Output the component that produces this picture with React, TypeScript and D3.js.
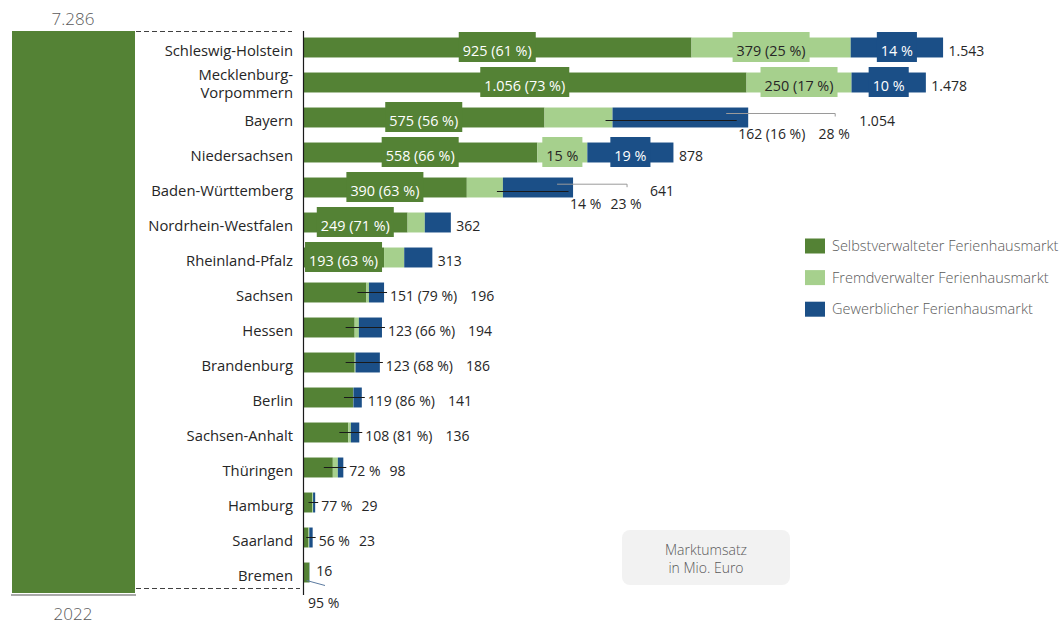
import React, { useEffect, useRef } from "react";
import * as d3 from "d3";

// ---------- data ----------
const states = [
  "Schleswig-Holstein", "Mecklenburg-Vorpommern", "Bayern", "Niedersachsen",
  "Baden-Württemberg", "Nordrhein-Westfalen", "Rheinland-Pfalz", "Sachsen",
  "Hessen", "Brandenburg", "Berlin", "Sachsen-Anhalt", "Thüringen",
  "Hamburg", "Saarland", "Bremen",
];
const selbst = [925, 1056, 575, 558, 390, 249, 193, 151, 123, 123, 119, 108, 71, 22, 13, 15];
const fremd = [379, 250, 162, 119, 86, 41, 48, 6, 10, 2, 1, 6, 12, 2, 2, 0.5];
const gewerb = [220, 177, 323, 205, 167, 62, 67, 36, 55, 58, 20, 20, 13, 5, 8, 0.5];
const totals = [1543, 1478, 1054, 878, 641, 362, 313, 196, 194, 186, 141, 136, 98, 29, 23, 16];
const selbstPct = [61, 73, 56, 66, 63, 71, 63, 79, 66, 68, 86, 81, 72, 77, 56, 95];
const fremdPct = [25, 17, 16, 15, 14];
const gewerbPct = [14, 10, 28, 19, 23];
// label kinds
const selbstLabelKind = ["in", "in", "in", "in", "in", "in", "in", "full", "full", "full", "full", "full", "pct", "pct", "pct", "below"];
const fremdLabelKind = ["in-full", "in-full", "call-full", "in-pct", "call-pct"];
const gewerbLabelKind = ["in", "in", "call", "in", "call"];
const grandTotal = 7286;
const yearLabel = "2022";
const legendLabels = ["Selbstverwalteter Ferienhausmarkt", "Fremdverwalter Ferienhausmarkt", "Gewerblicher Ferienhausmarkt"];
const noteLines = ["Marktumsatz", "in Mio. Euro"];

const C_GREEN = "#548235";
const C_LIGHT = "#a6d08d";
const C_BLUE = "#1b4f87";
const C_TEXT = "#262626";
const C_GRAY = "#595959";
const FONT = "'Open Sans', 'Noto Sans', sans-serif";

// callout offsets (pixels) for rows whose labels sit outside
const callouts: Record<number, any> = {
  2: { lFrom: -7, lY: 3, lLab: -10, bFrom: -22, bTo: 87, bY: -4, bLab: 86, totDx: 111 },
  4: { lFrom: -6, lY: 4, lLab: -3, bFrom: -16, bTo: 54, bY: -3.3, bLab: 53, totDx: 77 },
};

export default function App() {
  const ref = useRef<SVGSVGElement | null>(null);

  useEffect(() => {
    const svg = d3.select(ref.current);
    svg.selectAll("*").remove();
    const W = 1064, H = 625;
    const fmt = d3.formatLocale({ decimal: ",", thousands: ".", grouping: [3], currency: ["", ""] }).format(",d");

    const x0 = 303;
    const x = d3.scaleLinear().domain([0, 1000]).range([x0, x0 + 420]);
    const y = d3.scaleBand<string>().domain(states).range([30, 590]).paddingInner(0.43).paddingOuter(0.215);
    const bh = y.bandwidth();
    const cy = (i: number) => (y(states[i]) as number) + bh / 2;

    const rows = states.map((s, i) => ({ state: s, selbst: selbst[i], fremd: fremd[i], gewerb: gewerb[i] }));
    const keys = ["selbst", "fremd", "gewerb"];
    const colors = [C_GREEN, C_LIGHT, C_BLUE];
    const stack = d3.stack<any>().keys(keys)(rows);

    const g = svg.append("g").attr("font-family", FONT);

    // big total bar
    const yBig = d3.scaleLinear().domain([0, grandTotal]).range([593, 31]);
    g.append("rect").attr("x", 12).attr("width", 123).attr("y", yBig(grandTotal))
      .attr("height", yBig(0) - yBig(grandTotal)).attr("fill", C_GREEN);
    g.append("line").attr("x1", 11).attr("x2", 136).attr("y1", 595).attr("y2", 595)
      .attr("stroke", "#8c8c8c").attr("stroke-width", 1.5);
    g.append("text").attr("x", 73).attr("y", 25).attr("text-anchor", "middle")
      .attr("font-size", 17).attr("font-weight", 300).attr("fill", C_GRAY).text(fmt(grandTotal));
    g.append("text").attr("x", 73).attr("y", 620).attr("text-anchor", "middle")
      .attr("font-size", 17).attr("font-weight", 300).attr("fill", C_GRAY).text(yearLabel);
    // dashed connectors
    g.append("line").attr("x1", 136).attr("x2", 292).attr("y1", 31.5).attr("y2", 31.5)
      .attr("stroke", "#404040").attr("stroke-dasharray", "5,3");
    g.append("line").attr("x1", 136).attr("x2", 300).attr("y1", 588.5).attr("y2", 588.5)
      .attr("stroke", "#404040").attr("stroke-dasharray", "5,3");

    // stacked bars
    stack.forEach((layer, k) => {
      g.append("g").selectAll("rect").data(layer).join("rect")
        .attr("x", (d: any) => x(d[0]))
        .attr("width", (d: any) => Math.max(0, x(d[1]) - x(d[0])))
        .attr("y", (d: any) => y(d.data.state) as number)
        .attr("height", bh)
        .attr("fill", colors[k]);
    });

    // axis line
    g.append("line").attr("x1", x0 + 0.5).attr("x2", x0 + 0.5).attr("y1", 31).attr("y2", 595)
      .attr("stroke", "#1a1a1a").attr("stroke-width", 1.2);

    // category labels
    states.forEach((s, i) => {
      const c = cy(i);
      const lines = s === "Mecklenburg-Vorpommern" ? ["Mecklenburg-", "Vorpommern"] : [s];
      lines.forEach((ln, j) => {
        const base = lines.length === 1 ? c + 8.8 : c - 2.5 + j * 18;
        g.append("text").attr("x", 293).attr("y", base).attr("text-anchor", "end")
          .attr("font-size", 14.8).attr("fill", C_TEXT).text(ln);
      });
    });

    const labels = g.append("g");
    const boxLabel = (cx: number, c: number, txt: string, fill: string, tcol: string) => {
      const t = labels.append("text").attr("x", cx).attr("y", c + 8.5).attr("text-anchor", "middle")
        .attr("font-size", 14.4).attr("fill", tcol).text(txt);
      const w = (t.node() as SVGTextElement).getComputedTextLength() + 8;
      labels.insert("rect", () => t.node() as any).attr("x", cx - w / 2).attr("y", c - 15.5)
        .attr("width", w).attr("height", 30).attr("fill", fill);
    };
    const plain = (xx: number, yy: number, txt: string, anchor = "start", col = C_TEXT) => {
      const t = labels.append("text").attr("x", xx).attr("y", yy).attr("text-anchor", anchor)
        .attr("font-size", 14).attr("fill", col).text(txt);
      return (t.node() as SVGTextElement).getComputedTextLength();
    };
    const line = (xa: number, ya: number, xb: number, yb: number, col: string, w = 1) =>
      labels.append("line").attr("x1", xa).attr("x2", xb).attr("y1", ya).attr("y2", yb)
        .attr("stroke", col).attr("stroke-width", w);

    states.forEach((s, i) => {
      const c = cy(i);
      const gEnd = x(selbst[i]);
      const lEnd = x(selbst[i] + fremd[i]);
      const bEnd = x(selbst[i] + fremd[i] + gewerb[i]);
      const kind = selbstLabelKind[i];
      const fullTxt = `${fmt(selbst[i])} (${selbstPct[i]} %)`;
      const pctTxt = `${selbstPct[i]} %`;
      if (kind === "in") {
        boxLabel((x0 + gEnd) / 2, c, fullTxt, C_GREEN, "#ffffff");
      }
      const fk = fremdLabelKind[i];
      const bk = gewerbLabelKind[i];
      if (fk === "in-full") boxLabel((gEnd + lEnd) / 2, c, `${fremd[i]} (${fremdPct[i]} %)`, C_LIGHT, C_TEXT);
      if (fk === "in-pct") boxLabel((gEnd + lEnd) / 2, c, `${fremdPct[i]} %`, C_LIGHT, C_TEXT);
      if (bk === "in") boxLabel((lEnd + bEnd) / 2, c, `${gewerbPct[i]} %`, C_BLUE, "#ffffff");

      if (callouts[i]) {
        const co = callouts[i];
        const lTxt = fk === "call-full" ? `${fremd[i]} (${fremdPct[i]} %)` : `${fremdPct[i]} %`;
        const lx = bEnd + co.lLab;
        line(lEnd + co.lFrom, c + co.lY, lx - 1.5, c + co.lY, "#1a1a1a");
        plain(lx, c + 21, lTxt);
        line(bEnd + co.bFrom, c + co.bY, bEnd + co.bTo, c + co.bY, "#9a9a9a");
        line(bEnd + co.bTo, c + co.bY, bEnd + co.bTo, c + co.bY + 3, "#9a9a9a");
        plain(bEnd + co.bLab, c + 21, `${gewerbPct[i]} %`, "middle");
        plain(bEnd + co.totDx, c + 8.5, fmt(totals[i]));
      } else if (kind === "in") {
        plain(bEnd + 5.5, c + 8.5, fmt(totals[i]));
      } else if (kind === "full" || kind === "pct") {
        const lx = bEnd + 6;
        const gw = gEnd - x0;
        line(gEnd - Math.min(9, gw * 0.4), c, lx - 3, c, "#1a1a1a");
        const w = plain(lx, c + 8.5, kind === "full" ? fullTxt : pctTxt);
        plain(lx + w + (kind === "full" ? 13 : 9), c + 8.5, fmt(totals[i]));
      } else if (kind === "below") {
        plain(bEnd + 6.5, c + 3.5, fmt(totals[i]));
        line(x0 + 3.7, c + 8, x0 + 22, c + 13, "#5b7aa0");
        plain(x0 + 5, c + 35, pctTxt);
      }
    });

    // legend
    const lg = g.append("g");
    legendLabels.forEach((t, k) => {
      const c = 246 + k * 31.6;
      lg.append("rect").attr("x", 805).attr("y", c - 7.5).attr("width", 20).attr("height", 15).attr("fill", colors[k]);
      lg.append("text").attr("x", 832).attr("y", c + 5.2).attr("font-size", 14.5).attr("font-weight", 300)
        .attr("fill", C_GRAY).text(t);
    });

    // note box
    g.append("rect").attr("x", 622).attr("y", 530).attr("width", 168).attr("height", 55).attr("rx", 8)
      .attr("fill", "#f2f2f2");
    noteLines.forEach((t, k) => {
      g.append("text").attr("x", 706).attr("y", 555 + k * 17.5).attr("text-anchor", "middle")
        .attr("font-size", 14).attr("font-weight", 300).attr("fill", C_GRAY).text(t);
    });

    svg.attr("width", W).attr("height", H);
  }, []);

  return (
    <svg
      ref={ref}
      width={1064}
      height={625}
      style={{ position: "absolute", left: 0, top: 0, display: "block", background: "#ffffff" }}
    />
  );
}
